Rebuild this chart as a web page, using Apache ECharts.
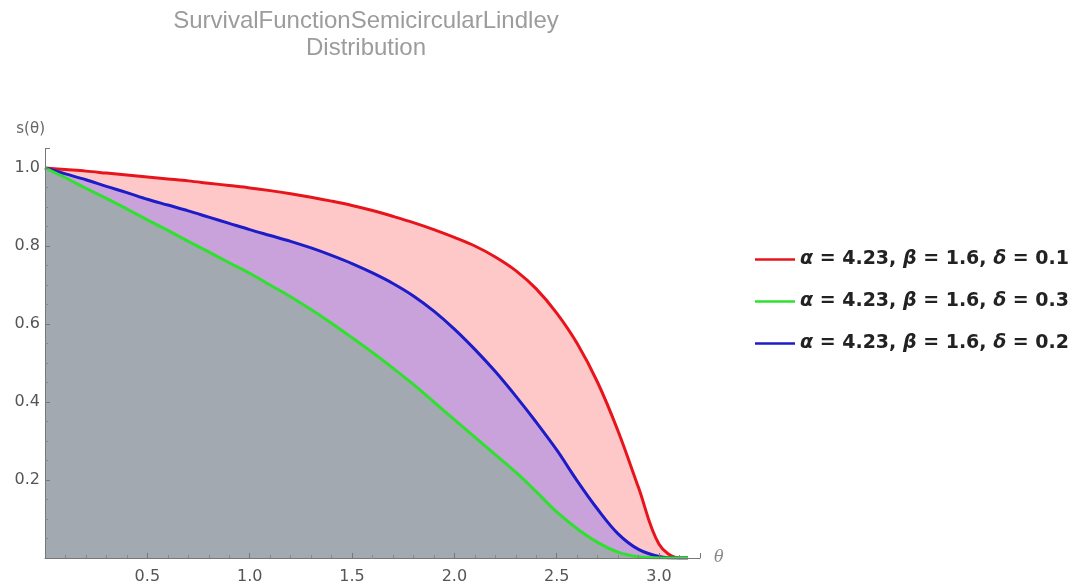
<!DOCTYPE html>
<html>
<head>
<meta charset="utf-8">
<script src="https://cdn.jsdelivr.net/npm/echarts@6/dist/echarts.min.js"></script>
<style>html,body{margin:0;padding:0;background:#fff;}#c{width:1083px;height:587px;}</style>
</head>
<body>
<div id="c"></div>
<script>
// theta values (x)
const theta = [0,0.1,0.2,0.3,0.4,0.5,0.6,0.7,0.8,0.9,1.0,1.1,1.2,1.3,1.4,1.5,1.6,1.7,1.8,1.9,2.0,2.1,2.2,2.3,2.4,2.5,2.6,2.7,2.8,2.9,3.0,3.1,3.1416];
// delta = 0.1 (red)
const sRed = [1.0,0.996,0.992,0.987,0.982,0.977,0.972,0.967,0.961,0.955,0.949,0.942,0.934,0.925,0.915,0.904,0.891,0.876,0.86,0.842,0.822,0.800,0.772,0.737,0.69,0.628,0.55,0.45,0.325,0.18,0.035,0.0,0.0];
// delta = 0.3 (green)
const sGreen = [1.0,0.975,0.948,0.922,0.895,0.867,0.84,0.812,0.785,0.757,0.73,0.70,0.67,0.637,0.602,0.565,0.527,0.487,0.445,0.40,0.355,0.31,0.265,0.22,0.17,0.118,0.075,0.04,0.015,0.003,0.0,0.0,0.0];
// delta = 0.2 (blue)
const sBlue = [1.0,0.985,0.97,0.953,0.937,0.92,0.905,0.89,0.874,0.858,0.842,0.827,0.812,0.795,0.776,0.755,0.731,0.704,0.672,0.633,0.587,0.535,0.478,0.415,0.348,0.277,0.198,0.125,0.062,0.022,0.004,0.0,0.0];

const names = ['α = 4.23, β = 1.6, δ = 0.1','α = 4.23, β = 1.6, δ = 0.3','α = 4.23, β = 1.6, δ = 0.2'];
const xTicks = [0.5,1.0,1.5,2.0,2.5,3.0];
const yTicks = [0.2,0.4,0.6,0.8,1.0];

function pairs(ys){ return theta.map((t,i)=>[t, ys[i]]); }

const chart = echarts.init(document.getElementById('c'));
const tickFont = {color:'#555', fontSize:16, fontFamily:'DejaVu Sans, sans-serif'};
chart.setOption({
  animation:false,
  backgroundColor:'#fff',
  title:{
    text:'SurvivalFunctionSemicircularLindley\nDistribution',
    left:361, textAlign:'center', top:3,
    textStyle:{color:'#9c9c9c', fontSize:24, fontWeight:'normal', lineHeight:27, fontFamily:'Liberation Sans, Arial, sans-serif'}
  },
  grid:{left:45, right:383, top:148.5, bottom:29, containLabel:false},
  legend:{
    orient:'vertical', left:750, top:243, itemGap:19,
    data:names,
    icon:'rect', itemWidth:40, itemHeight:2.5,
    formatter:function(n){ return n.replace(/([αβδ])/g, '{g|$1}'); },
    textStyle:{color:'#222', fontSize:19, lineHeight:23, fontWeight:'bold', fontFamily:'DejaVu Sans, sans-serif',
      rich:{g:{fontSize:19, lineHeight:23, fontWeight:'bold', fontStyle:'italic', color:'#222', fontFamily:'DejaVu Sans, sans-serif'}}}
  },
  xAxis:{
    type:'value', min:0, max:3.2, interval:0.5, z:10,
    name:'θ', nameLocation:'end', nameGap:14,
    nameTextStyle:{color:'#888', fontSize:16, fontStyle:'italic', verticalAlign:'middle', fontFamily:'DejaVu Serif, serif'},
    axisLine:{show:true, onZero:false, lineStyle:{color:'#777', width:1}},
    axisTick:{show:true, inside:true, length:5, lineStyle:{color:'#777'}},
    minorTick:{show:true, splitNumber:5, length:3, lineStyle:{color:'#888'}},
    splitLine:{show:false},
    axisLabel:Object.assign({margin:11, showMaxLabel:false, formatter:function(v){ return xTicks.indexOf(Math.round(v*10)/10)>=0 ? v.toFixed(1) : ''; }}, tickFont)
  },
  yAxis:{
    type:'value', min:0, max:1.05, interval:0.2, z:10,
    name:'s(θ)', nameLocation:'end', nameGap:12,
    nameTextStyle:{color:'#666', fontSize:15, align:'right', fontFamily:'DejaVu Sans, sans-serif'},
    axisLine:{show:true, onZero:false, lineStyle:{color:'#777', width:1}},
    axisTick:{show:true, inside:true, length:5, lineStyle:{color:'#777'}},
    minorTick:{show:true, splitNumber:4, length:3, lineStyle:{color:'#888'}},
    splitLine:{show:false},
    axisLabel:Object.assign({margin:5, showMaxLabel:false, formatter:function(v){ return yTicks.indexOf(Math.round(v*10)/10)>=0 ? v.toFixed(1) : ''; }}, tickFont)
  },
  series:[
    {name:names[0], type:'line', data:pairs(sRed), smooth:0.35, showSymbol:false, z:2,
     itemStyle:{color:'#e8141c'}, lineStyle:{color:'#e8141c', width:3}, areaStyle:{color:'#ffc8c8', opacity:1}},
    {name:names[1], type:'line', data:pairs(sGreen), smooth:0.35, showSymbol:false, z:4,
     itemStyle:{color:'#2fe02f'}, lineStyle:{color:'#2fe02f', width:3}, areaStyle:{color:'#a3a9b0', opacity:1}},
    {name:names[2], type:'line', data:pairs(sBlue), smooth:0.35, showSymbol:false, z:3,
     itemStyle:{color:'#1c1cc8'}, lineStyle:{color:'#1c1cc8', width:3}, areaStyle:{color:'#c9a2dc', opacity:1}}
  ]
});
</script>
</body>
</html>
